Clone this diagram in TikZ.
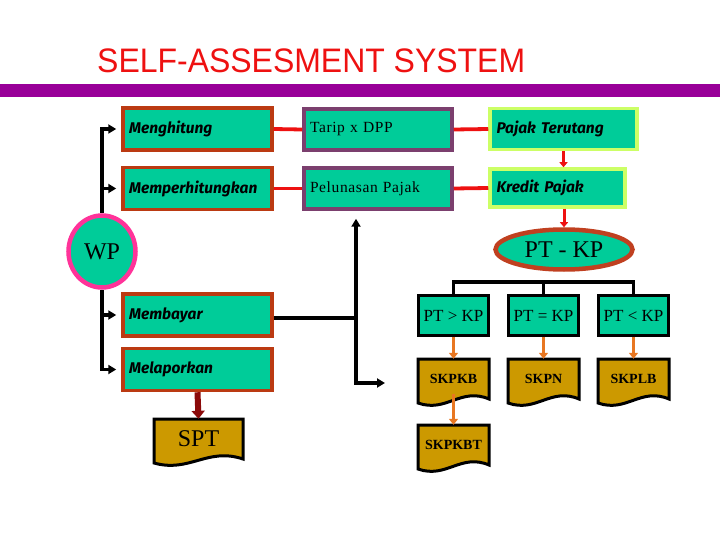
\documentclass[tikz,border=0pt]{standalone}
\usepackage{fontspec}
\setmainfont{Liberation Serif}
\newfontfamily\titlefont{Liberation Sans}
\newfontfamily\boxfont{Fira Sans}
\newfontfamily\midfont[LetterSpace=4]{Liberation Serif}
\usetikzlibrary{arrows.meta,shapes.geometric}
\definecolor{boxgreen}{HTML}{00CC99}
\definecolor{brownB}{HTML}{BB3A12}
\definecolor{purpB}{HTML}{7B3F6E}
\definecolor{limeB}{HTML}{CCFF66}
\definecolor{docgold}{HTML}{CC9900}
\definecolor{wpmag}{HTML}{FF3399}
\definecolor{ellB}{HTML}{C04020}
\definecolor{barpurple}{HTML}{990099}
\definecolor{titlered}{HTML}{EE1111}
\definecolor{conred}{HTML}{EE1111}
\definecolor{orangeA}{HTML}{E87722}
\definecolor{darkredA}{HTML}{8B0A0A}
\tikzset{
  actbox/.style={draw=brownB, line width=3.5pt, fill=boxgreen, minimum width=149pt, minimum height=42pt,
    text width=137pt, align=left, inner sep=0pt, font=\boxfont\bfseries\itshape\fontsize{15.5}{17}\selectfont},
  midbox/.style={draw=purpB, line width=3.5pt, fill=boxgreen, minimum width=148pt, minimum height=41pt,
    text width=136pt, align=left, inner sep=0pt, font=\midfont\fontsize{15.5}{17}\selectfont},
  limebox/.style={draw=limeB, line width=3.5pt, fill=boxgreen, minimum height=41pt,
    align=left, inner sep=0pt, font=\boxfont\bfseries\itshape\fontsize{15.5}{17}\selectfont},
  cmpbox/.style={draw=black, line width=3pt, fill=boxgreen, minimum width=70pt, minimum height=40pt,
    inner sep=0pt, font=\fontsize{17}{19}\selectfont},
  docfill/.style={draw=black, line width=3pt, fill=docgold},
  doctext/.style={inner sep=0pt, font=\bfseries\fontsize{14}{16}\selectfont},
  blk/.style={draw=black, line width=3.2pt},
  blkarrow/.style={blk, -{Triangle[length=8pt,width=9pt]}},
  redline/.style={draw=conred, line width=3.8pt},
  redarrow/.style={draw=conred, line width=3pt, -{Triangle[length=5pt,width=8pt]}},
  orarrow/.style={draw=orangeA, line width=3.5pt, -{Triangle[length=6pt,width=9pt]}},
  dkarrow/.style={draw=darkredA, line width=6pt, -{Triangle[length=8pt,width=13pt]}},
}
% name, center x, top y, width, height (to right corner), text, extra options
\newcommand\docshape[7]{%
  \path[docfill] (#2-#4/2,#3) -- (#2+#4/2,#3) -- (#2+#4/2,#3+#5)
    .. controls (#2+#4/2-0.4*#4,#3+#5-12) and (#2-#4/2+0.4*#4,#3+#5+14) .. (#2-#4/2,#3+#5+4) -- cycle;
  \node[doctext, #7, minimum width=#4, minimum height=#5] (#1) at (#2,#3+#5/2) {#6};
}
\begin{document}
\begin{tikzpicture}[x=1pt,y=-1pt]
\useasboundingbox (0,0) rectangle (720,540);
% title and bar
\node[anchor=base west, inner sep=0pt, text=titlered, xscale=0.94, font=\titlefont\fontsize{34}{38}\selectfont] (title) at (97,73) {SELF-ASSESMENT SYSTEM};
\fill[barpurple] (0,84) rectangle (720,97);

% left column
\node[actbox] (mh) at (197.5,129) {Menghitung};
\node[actbox] (mph) at (197.5,188.5) {Memperhitungkan};
\node[actbox] (mb) at (197.5,315) {Membayar};
\node[actbox] (ml) at (197.5,369.5) {Melaporkan};

% middle column
\node[midbox] (tarip) at (378,129.5) {Tarip x DPP};
\node[midbox] (pel) at (378,188.5) {Pelunasan Pajak};

% right column
\node[limebox, minimum width=147pt, text width=134pt] (pt) at (563.5,129) {Pajak Terutang};
\node[limebox, minimum width=135pt, text width=122pt, minimum height=38pt] (kp) at (557.5,188) {Kredit Pajak};

% WP circle
\node[ellipse, draw=wpmag, line width=4.5pt, fill=boxgreen, minimum width=67pt, minimum height=72pt, inner sep=0pt,
  font=\fontsize{24}{26}\selectfont] (wp) at (102,251.5) {WP};

% PT - KP ellipse
\node[ellipse, draw=ellB, line width=4.5pt, fill=boxgreen, minimum width=137pt, minimum height=40pt, inner sep=0pt,
  font=\fontsize{24}{26}\selectfont] (ptkp) at (564,249.5) {PT - KP};

% comparison boxes
\node[cmpbox] (c1) at (453.5,315.5) {PT > KP};
\node[cmpbox] (c2) at (543.5,315.5) {PT = KP};
\node[cmpbox] (c3) at (633.5,315.5) {PT < KP};

% documents
\docshape{skpkb}{453.5}{359}{71}{40}{SKPKB}{}
\docshape{skpn}{543.5}{359}{71}{40}{SKPN}{}
\docshape{skplb}{633.5}{359}{71}{40}{SKPLB}{}
\docshape{skpkbt}{453.5}{425}{71}{40}{SKPKBT}{}
\docshape{spt}{198.5}{419}{89}{40}{SPT}{font=\mdseries\fontsize{24}{26}\selectfont}

% left tree arrows
\draw[blkarrow, shorten >=5pt] (wp.north) |- (mh.west);
\draw[blkarrow, shorten >=5pt] (wp.north |- mph.west) -- (mph.west);
\draw[blkarrow, shorten >=5pt] (wp.south) |- (ml.west);
\draw[blkarrow, shorten >=5pt] (wp.south |- mb.west) -- (mb.west);

% red connectors
\draw[redline] (mh.east) -- (tarip.west);
\draw[redline] (mph.east) -- (pel.west);
\draw[redline] (tarip.east) -- (pt.west);
\draw[redline] (pel.east) -- (kp.west);
\draw[redarrow] (pt.south) -- (pt.south |- kp.north);
\draw[redarrow] (ptkp.north |- kp.south) -- (ptkp.north);

% Membayar branch
\coordinate (vx) at (356,318);
\coordinate (dnend) at (385,383);
\draw[blk] (mb.east |- vx) -- (vx);
\draw[blkarrow, shorten >=8pt] (vx |- dnend) -- (vx |- pel.south);
\draw[blkarrow] (vx) |- (dnend);

% bracket to comparison boxes
\draw[blk] (c1.north) -- ++(0,-12) -| (c3.north);
\draw[blk] (c2.north) -- ++(0,-12);

% orange arrows
\draw[orarrow] (c1.south) -- (skpkb.north);
\draw[orarrow] (c2.south) -- (skpn.north);
\draw[orarrow] (c3.south) -- (skplb.north);
\draw[orarrow] ([yshift=5pt]skpkb.south) -- (skpkbt.north);

% Melaporkan to SPT
\draw[dkarrow] (ml.south) -- (spt.north);
\end{tikzpicture}
\end{document}
